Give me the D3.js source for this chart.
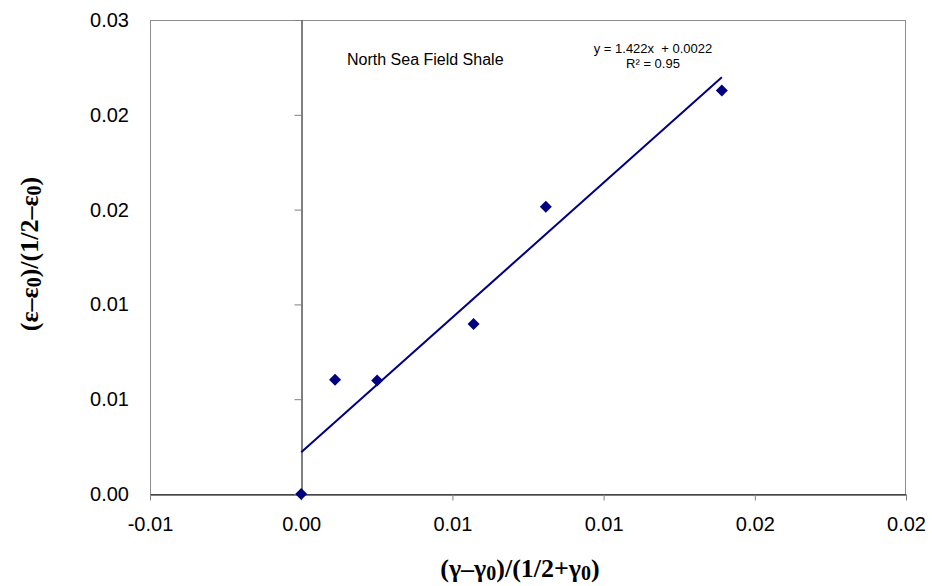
<!DOCTYPE html>
<html>
<head>
<meta charset="utf-8">
<script src="https://cdn.jsdelivr.net/npm/d3@7"></script>
<style>
  html, body { margin: 0; padding: 0; background: #fff; }
  svg { display: block; }
</style>
</head>
<body>
<svg id="chart" width="932" height="586"></svg>
<script>
// ---- data ----
const xValues = [0.0, 0.00112, 0.00251, 0.00570, 0.00809, 0.01391];
const yValues = [0.0, 0.00602, 0.00598, 0.00897, 0.01515, 0.02128];
const xTicks = [-0.005, 0.0, 0.005, 0.01, 0.015, 0.02];
const xTickLabels = ["-0.01", "0.00", "0.01", "0.01", "0.02", "0.02"];
const yTicks = [0.0, 0.005, 0.01, 0.015, 0.02, 0.025];
const yTickLabels = ["0.00", "0.01", "0.01", "0.02", "0.02", "0.03"];
const trendSlope = 1.422;
const trendIntercept = 0.0022;
const titleText = "North Sea Field Shale";
const eqLines = ["y = 1.422x  + 0.0022", "R² = 0.95"];

// ---- layout ----
const svg = d3.select("#chart");
const L = 150, R = 906, T = 20, B = 494;
const x = d3.scaleLinear().domain([-0.005, 0.02]).range([L, R]);
const y = d3.scaleLinear().domain([0, 0.025]).range([B, T]);
const sans = "'Liberation Sans', Arial, sans-serif";
const serif = "'Liberation Serif', 'Times New Roman', serif";
const navy = "#000080";

// plot area border
svg.append("rect")
  .attr("x", L + 0.5).attr("y", T + 0.5)
  .attr("width", R - L - 1).attr("height", B - T)
  .attr("fill", "none").attr("stroke", "#8c8c8c").attr("stroke-width", 1);

// x axis (at y=0)
const xAxis = svg.append("g").attr("transform", `translate(0,${Math.round(y(0)) + 0.5})`)
  .call(d3.axisBottom(x).tickValues(xTicks).tickSize(6).tickSizeOuter(0)
    .tickFormat((d, i) => xTickLabels[i]));
xAxis.select(".domain").attr("stroke", "#000").attr("stroke-width", 1);
xAxis.selectAll(".tick line").attr("stroke", "#808080");
xAxis.selectAll(".tick text").attr("font-family", sans).attr("font-size", 20)
  .attr("fill", "#000").attr("y", 22).attr("dy", "0.71em");

// y axis (at x=0), labels at left edge of plot
const yAxis = svg.append("g").attr("transform", `translate(${Math.round(x(0)) + 0.5},0)`)
  .call(d3.axisLeft(y).tickValues(yTicks).tickSize(7).tickSizeOuter(0).tickFormat(""));
yAxis.select(".domain").attr("stroke", "#000").attr("stroke-width", 1);
yAxis.selectAll(".tick line").attr("stroke", "#808080");

svg.append("g").selectAll("text").data(yTicks).join("text")
  .attr("x", 129).attr("y", d => y(d)).attr("dy", "0.35em")
  .attr("text-anchor", "end")
  .attr("font-family", sans).attr("font-size", 20).attr("fill", "#000")
  .text((d, i) => yTickLabels[i]);

// trendline
const ext = d3.extent(xValues);
const line = d3.line().x(d => x(d)).y(d => y(trendSlope * d + trendIntercept));
svg.append("path").datum(ext).attr("d", line)
  .attr("fill", "none").attr("stroke", navy).attr("stroke-width", 2);

// points
const sym = d3.symbol().type(d3.symbolSquare).size(72);
svg.append("g").selectAll("path").data(xValues).join("path")
  .attr("d", sym)
  .attr("transform", (d, i) => `translate(${x(d)},${y(yValues[i])}) rotate(45)`)
  .attr("fill", navy);

// annotation text
svg.append("text").attr("x", 347).attr("y", 65)
  .attr("font-family", sans).attr("font-size", 16).attr("fill", "#000")
  .text(titleText);
svg.append("g").selectAll("text").data(eqLines).join("text")
  .attr("x", 653).attr("y", (d, i) => 53 + i * 15)
  .attr("text-anchor", "middle")
  .attr("font-family", sans).attr("font-size", 13).attr("fill", "#000")
  .style("white-space", "pre")
  .text(d => d);

// axis titles
function titleParts(sel, parts) {
  parts.forEach(([t, sub]) => {
    const ts = sel.append("tspan").text(t);
    if (sub) ts.attr("baseline-shift", "-3px").attr("font-size", 20);
    else ts.attr("baseline-shift", "0");
  });
}
const xt = svg.append("text").attr("x", 520).attr("y", 577)
  .attr("text-anchor", "middle").attr("font-family", serif)
  .attr("font-weight", "bold").attr("font-size", 26).attr("fill", "#000");
titleParts(xt, [["(γ–γ", false], ["0", true], [")/(1/2+γ", false], ["0", true], [")", false]]);

const yt = svg.append("text").attr("transform", "translate(38,254) rotate(-90)")
  .attr("text-anchor", "middle").attr("font-family", serif)
  .attr("font-weight", "bold").attr("font-size", 26).attr("fill", "#000");
titleParts(yt, [["(ε–ε", false], ["0", true], [")/(1/2–ε", false], ["0", true], [")", false]]);
</script>
</body>
</html>
